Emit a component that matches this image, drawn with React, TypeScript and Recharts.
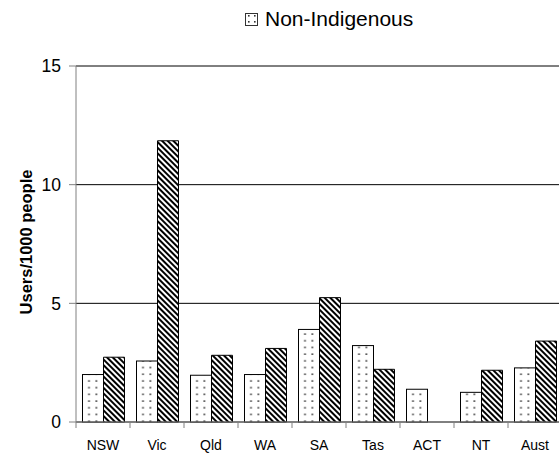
import * as React from 'react';
import { BarChart, Bar, XAxis, YAxis, CartesianGrid } from 'recharts';

const states = ['NSW', 'Vic', 'Qld', 'WA', 'SA', 'Tas', 'ACT', 'NT', 'Aust'];
const nonIndigenous = [2.0, 2.57, 1.97, 2.0, 3.9, 3.22, 1.38, 1.25, 2.28];
const indigenous: (number | null)[] = [2.73, 11.85, 2.81, 3.1, 5.24, 2.22, null, 2.18, 3.41];
const yTicks = [0, 5, 10, 15];

const data = states.map((state, i) => ({
  state,
  nonIndigenous: nonIndigenous[i],
  indigenous: indigenous[i],
}));

const CHART_W = 562;
const CHART_H = 456;
const Y_AXIS_W = 76;
const BAND = (CHART_W - Y_AXIS_W) / states.length;
const FONT = "'Liberation Sans', Arial, sans-serif";
const AXIS_GREY = '#808080';

const StateTick = (props: any) => {
  const { x, y, payload } = props;
  return (
    <g>
      <line x1={x - BAND / 2} y1={y} x2={x - BAND / 2} y2={y + 6} stroke={AXIS_GREY} />
      <text x={x} y={y + 28} textAnchor="middle" fontSize={14} fontFamily={FONT} fill="#000">
        {payload.value}
      </text>
    </g>
  );
};

// dotted fill, two columns of dots per bar, rows counted up from the base
const DottedBar = (props: any) => {
  const { x, y, width, height, index } = props;
  if (!height || height <= 0) return null;
  const id = `dots-${index}`;
  const rowH = 6.7;
  return (
    <g>
      <defs>
        <pattern id={id} patternUnits="userSpaceOnUse" x={x} y={y + height} width={width} height={rowH}>
          <rect width={width} height={rowH} fill="#fff" />
          <rect x={5.7} y={5.1} width={1.6} height={1.6} fill="#333" />
          <rect x={13} y={5.1} width={1.6} height={1.6} fill="#333" />
        </pattern>
      </defs>
      <rect x={x} y={y} width={width} height={height} fill={`url(#${id})`} stroke="#000" strokeWidth={1} />
    </g>
  );
};

const YTitle = (props: any) => {
  const { viewBox } = props;
  const cy = viewBox.y + viewBox.height / 2 - 2;
  return (
    <text
      x={32}
      y={cy}
      transform={`rotate(-90, 32, ${cy})`}
      textAnchor="middle"
      fontSize={16.5}
      fontWeight="bold"
      fontFamily={FONT}
      fill="#000"
    >
      Users/1000 people
    </text>
  );
};

export default function App() {
  return (
    <div style={{ position: 'absolute', left: 0, top: 0, width: 559, height: 456, overflow: 'hidden', background: '#fff' }}>
      {/* legend: only the Non-Indigenous entry is shown */}
      <svg width={559} height={40} style={{ position: 'absolute', left: 0, top: 0 }}>
        <defs>
          <pattern id="legendDots" patternUnits="userSpaceOnUse" width={6} height={6} x={246} y={13}>
            <rect width={6} height={6} fill="#fff" />
            <rect x={2} y={2} width={1.6} height={1.6} fill="#333" />
          </pattern>
        </defs>
        <rect x={245.5} y={13.5} width={12} height={12} fill="url(#legendDots)" stroke="#333" strokeWidth={1} />
        <text x={265} y={26} fontSize={21} fontFamily={FONT} fill="#000">
          Non-Indigenous
        </text>
      </svg>
      <BarChart
        width={CHART_W}
        height={CHART_H}
        data={data}
        margin={{ top: 66, right: 0, bottom: 0, left: 0 }}
        barCategoryGap={6.5}
        barGap={0}
      >
        <defs>
          <pattern id="hatch" patternUnits="userSpaceOnUse" width={4} height={4} patternTransform="rotate(45)">
            <rect width={4} height={4} fill="#fff" />
            <rect width={4} height={2} fill="#000" />
          </pattern>
        </defs>
        <CartesianGrid vertical={false} stroke="#000" />
        <XAxis
          dataKey="state"
          height={34}
          stroke={AXIS_GREY}
          tickLine={false}
          tickSize={0}
          tickMargin={0}
          interval={0}
          tick={<StateTick />}
        />
        <YAxis
          width={Y_AXIS_W}
          domain={[0, 15]}
          ticks={yTicks}
          stroke={AXIS_GREY}
          tickSize={7}
          tickMargin={8}
          tick={{ fill: '#000', fontSize: 17.5, fontFamily: FONT }}
          label={<YTitle />}
        />
        <Bar dataKey="nonIndigenous" name="Non-Indigenous" shape={<DottedBar />} isAnimationActive={false} />
        <Bar dataKey="indigenous" name="Indigenous" fill="url(#hatch)" stroke="#000" strokeWidth={1} isAnimationActive={false} />
      </BarChart>
    </div>
  );
}
